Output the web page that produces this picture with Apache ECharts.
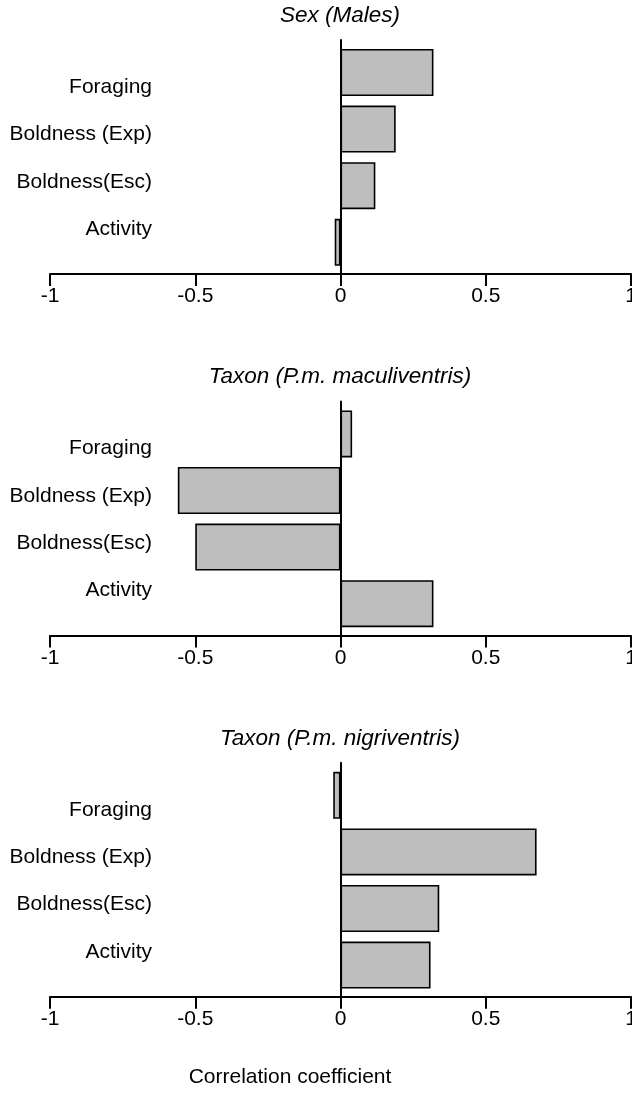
<!DOCTYPE html>
<html>
<head>
<meta charset="utf-8">
<script src="https://cdn.jsdelivr.net/npm/echarts@6/dist/echarts.min.js"></script>
<style>
  html, body { margin: 0; padding: 0; background: #fff; overflow: hidden; }
  #chart { width: 632px; height: 1100px; }
</style>
</head>
<body>
<div id="chart"></div>
<script>
var traits = ['Foraging', 'Boldness (Exp)', 'Boldness(Esc)', 'Activity'];
var panelTitles = ['Sex (Males)', 'Taxon (P.m. maculiventris)', 'Taxon (P.m. nigriventris)'];
var sexMales = [0.32, 0.19, 0.12, -0.02];
var maculiventris = [0.04, -0.56, -0.50, 0.32];
var nigriventris = [-0.025, 0.675, 0.34, 0.31];
var xTicks = [-1, -0.5, 0, 0.5, 1];
var xLabel = 'Correlation coefficient';

var panels = [sexMales, maculiventris, nigriventris];
var step = 361.4;
var font = 'Liberation Sans, Arial, sans-serif';

var grid = [], xAxis = [], yAxis = [], series = [], title = [];

panels.forEach(function (vals, p) {
	var o = p * step;
	var g = grid.length;

	// frame: x axis + zero line
	grid.push({ left: 50, width: 581, top: 40 + o, height: 234, outerBoundsMode: 'none' });
	xAxis.push({
		gridIndex: g, type: 'value', min: -1, max: 1, interval: 0.5,
		axisLine: { show: true, lineStyle: { color: '#000', width: 2 } },
		axisTick: { show: true, length: 12, lineStyle: { color: '#000', width: 2 } },
		axisLabel: {
			margin: 12, color: '#000', fontSize: 21, fontFamily: font,
			hideOverlap: false, showMinLabel: true, showMaxLabel: true,
			formatter: function (v) { return xTicks.indexOf(v) >= 0 ? String(v) : ''; }
		},
		splitLine: { show: false }
	});
	yAxis.push({
		gridIndex: g, type: 'category', data: traits,
		axisLine: { show: true, onZero: true, lineStyle: { color: '#000', width: 2 } },
		axisTick: { show: false }, axisLabel: { show: false }
	});

	// bars
	grid.push({ left: 50, width: 581, top: 44.2 + o, height: 226.4, outerBoundsMode: 'none' });
	xAxis.push({ gridIndex: g + 1, type: 'value', min: -1, max: 1, show: false });
	yAxis.push({ gridIndex: g + 1, type: 'category', data: traits, inverse: true, show: false });
	series.push({
		type: 'bar', xAxisIndex: g + 1, yAxisIndex: g + 1, data: vals,
		barWidth: 47, silent: true,
		itemStyle: { color: '#bebebe', borderColor: '#000', borderWidth: 1.6 }
	});

	// trait labels
	grid.push({ left: 160, width: 100, top: 63.3 + o, height: 189.6, outerBoundsMode: 'none' });
	xAxis.push({ gridIndex: g + 2, type: 'value', min: 0, max: 1, show: false });
	yAxis.push({
		gridIndex: g + 2, type: 'category', data: traits, inverse: true,
		axisLine: { show: false }, axisTick: { show: false },
		axisLabel: { margin: 8, color: '#000', fontSize: 21, fontFamily: font }
	});

	title.push({
		text: panelTitles[p], left: 340, top: 4 + o, textAlign: 'center', padding: 0,
		textStyle: { fontStyle: 'italic', fontWeight: 'normal', fontSize: 22.5, color: '#000', fontFamily: font }
	});
});

title.push({
	text: xLabel, left: 290, top: 1067, textAlign: 'center', padding: 0,
	textStyle: { fontWeight: 'normal', fontSize: 21, color: '#000', fontFamily: font }
});

var chart = echarts.init(document.getElementById('chart'));
chart.setOption({
	animation: false,
	backgroundColor: '#fff',
	title: title,
	grid: grid,
	xAxis: xAxis,
	yAxis: yAxis,
	series: series
});
</script>
</body>
</html>
